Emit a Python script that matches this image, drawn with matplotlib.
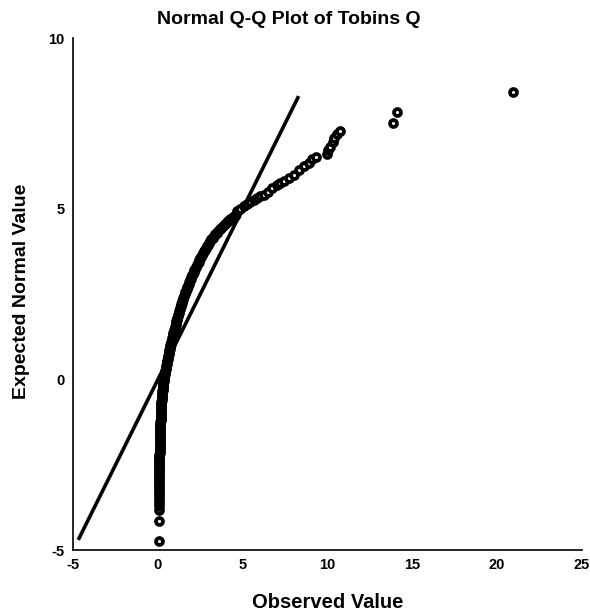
import matplotlib
matplotlib.use("Agg")
import matplotlib.pyplot as plt

plt.rcParams['font.family'] = ['Liberation Sans', 'DejaVu Sans']
plt.rcParams['axes.unicode_minus'] = False

# observed Tobins Q (x) vs expected normal value (y)
# lower tail: the few separate points under the dense column
low_obs = [0.05, 0.06, 0.07, 0.07, 0.07, 0.07, 0.07, 0.07, 0.07, 0.08,
           0.08, 0.08, 0.08, 0.08, 0.08, 0.08, 0.08, 0.08, 0.08]
low_exp = [-4.74, -4.15, -3.83, -3.72, -3.62, -3.53, -3.45, -3.37, -3.30,
           -3.22, -3.15, -3.08, -3.01, -2.95, -2.89, -2.83, -2.77, -2.71,
           -2.65]

# dense part of the curve (solid black band)
band_obs = [
    0.08, 0.08, 0.08, 0.08, 0.08, 0.09, 0.09, 0.09, 0.09, 0.10, 0.10, 0.10,
    0.10, 0.11, 0.11, 0.11, 0.12, 0.12, 0.12, 0.12, 0.13, 0.13, 0.13, 0.14,
    0.14, 0.14, 0.15, 0.15, 0.16, 0.16, 0.17, 0.17, 0.18, 0.18, 0.19, 0.19,
    0.20, 0.20, 0.21, 0.21, 0.22, 0.23, 0.23, 0.24, 0.25, 0.26, 0.27, 0.28,
    0.29, 0.30, 0.32, 0.33, 0.35, 0.36, 0.38, 0.40, 0.42, 0.44, 0.46, 0.48,
    0.50, 0.52, 0.54, 0.56, 0.58, 0.60, 0.62, 0.64, 0.66, 0.68, 0.70, 0.72,
    0.74, 0.76, 0.78, 0.81, 0.83, 0.86, 0.88, 0.91, 0.93, 0.96, 0.98, 1.01,
    1.04, 1.07, 1.09, 1.12, 1.15, 1.18, 1.20, 1.23, 1.25, 1.28, 1.31, 1.34,
    1.37, 1.40, 1.43, 1.47, 1.50, 1.54, 1.57, 1.61, 1.65, 1.69, 1.73, 1.77,
    1.81, 1.85, 1.89, 1.93, 1.97, 2.02, 2.06, 2.11, 2.15, 2.20, 2.25, 2.30,
    2.35, 2.40, 2.45, 2.50, 2.55, 2.61, 2.66, 2.72, 2.78, 2.84, 2.90, 2.96,
    3.02, 3.09, 3.16, 3.23, 3.30, 3.38, 3.46, 3.55, 3.64, 3.74, 3.84, 3.94,
    4.05, 4.16, 4.28, 4.40, 4.52, 4.62,
]
band_exp = [
    -2.60, -2.55, -2.50, -2.45, -2.40, -2.35, -2.30, -2.25, -2.20, -2.15,
    -2.10, -2.05, -2.00, -1.95, -1.90, -1.85, -1.80, -1.75, -1.70, -1.65,
    -1.60, -1.55, -1.50, -1.45, -1.40, -1.35, -1.30, -1.25, -1.20, -1.15,
    -1.10, -1.05, -1.00, -0.95, -0.90, -0.85, -0.80, -0.75, -0.70, -0.65,
    -0.60, -0.55, -0.50, -0.45, -0.40, -0.35, -0.30, -0.25, -0.20, -0.15,
    -0.10, -0.05, 0.00, 0.05, 0.10, 0.15, 0.20, 0.25, 0.30, 0.35, 0.40,
    0.45, 0.50, 0.55, 0.60, 0.65, 0.70, 0.75, 0.80, 0.85, 0.90, 0.95, 1.00,
    1.05, 1.10, 1.15, 1.20, 1.25, 1.30, 1.35, 1.40, 1.45, 1.50, 1.55, 1.60,
    1.65, 1.70, 1.75, 1.80, 1.85, 1.90, 1.95, 2.00, 2.05, 2.10, 2.15, 2.20,
    2.25, 2.30, 2.35, 2.40, 2.45, 2.50, 2.55, 2.60, 2.65, 2.70, 2.75, 2.80,
    2.85, 2.90, 2.95, 3.00, 3.05, 3.10, 3.15, 3.20, 3.25, 3.30, 3.35, 3.40,
    3.45, 3.50, 3.55, 3.60, 3.65, 3.70, 3.75, 3.80, 3.85, 3.90, 3.95, 4.00,
    4.05, 4.10, 4.15, 4.20, 4.25, 4.30, 4.35, 4.40, 4.45, 4.50, 4.55, 4.60,
    4.65, 4.70, 4.75, 4.80, 4.85,
]

# upper tail: separate markers and the outliers
high_obs = [4.67, 4.86, 5.06, 5.25, 5.45, 5.65, 5.85, 6.05, 6.24, 6.50,
            6.73, 7.03, 7.23, 7.42, 7.72, 8.01, 8.31, 8.60, 8.90, 9.10, 9.30,
            9.95, 10.05, 10.15, 10.30, 10.40, 10.55, 10.72,
            13.84, 14.08, 20.93]
high_exp = [4.92, 4.99, 5.07, 5.14, 5.21, 5.26, 5.31, 5.36, 5.41, 5.50,
            5.60, 5.70, 5.75, 5.80, 5.90, 5.99, 6.14, 6.24, 6.34, 6.45, 6.52,
            6.60, 6.72, 6.82, 6.95, 7.08, 7.20, 7.29,
            7.51, 7.84, 8.42]

observed = low_obs + band_obs + high_obs
expected = low_exp + band_exp + high_exp

# reference line y = x
line_x = [-4.7, 8.3]
line_y = [-4.7, 8.3]

x_ticks = [-5, 0, 5, 10, 15, 20, 25]
y_ticks = [-5, 0, 5, 10]

fig = plt.figure(figsize=(5.9, 6.14), dpi=100)
ax = fig.add_axes([0.124, 0.104, 0.862, 0.834])

ax.plot(line_x, line_y, color="black", linewidth=2.6, solid_capstyle="butt", zorder=2)
ax.plot(observed, expected, linestyle="none", marker="o", markersize=5.0,
        markerfacecolor="white", markeredgecolor="black", markeredgewidth=2.7,
        zorder=3)

ax.set_xlim(-5, 25)
ax.set_ylim(-5, 10)
ax.set_xticks(x_ticks)
ax.set_yticks(y_ticks)
ax.tick_params(length=0, labelsize=10.5, pad=6)
for lab in ax.get_xticklabels() + ax.get_yticklabels():
    lab.set_fontweight("bold")

ax.spines["top"].set_visible(False)
ax.spines["right"].set_visible(False)
ax.spines["left"].set_linewidth(1.2)
ax.spines["bottom"].set_linewidth(1.2)

fig.text(0.49, 0.968, "Normal Q-Q Plot of Tobins Q", ha="center", va="center",
         fontsize=14, fontweight="bold")
fig.text(0.556, 0.018, "Observed Value", ha="center", va="center",
         fontsize=14.5, fontweight="bold")
fig.text(0.037, 0.525, "Expected Normal Value", ha="center", va="center",
         rotation=90, fontsize=14, fontweight="bold")

fig.savefig("out.png", dpi=100)
